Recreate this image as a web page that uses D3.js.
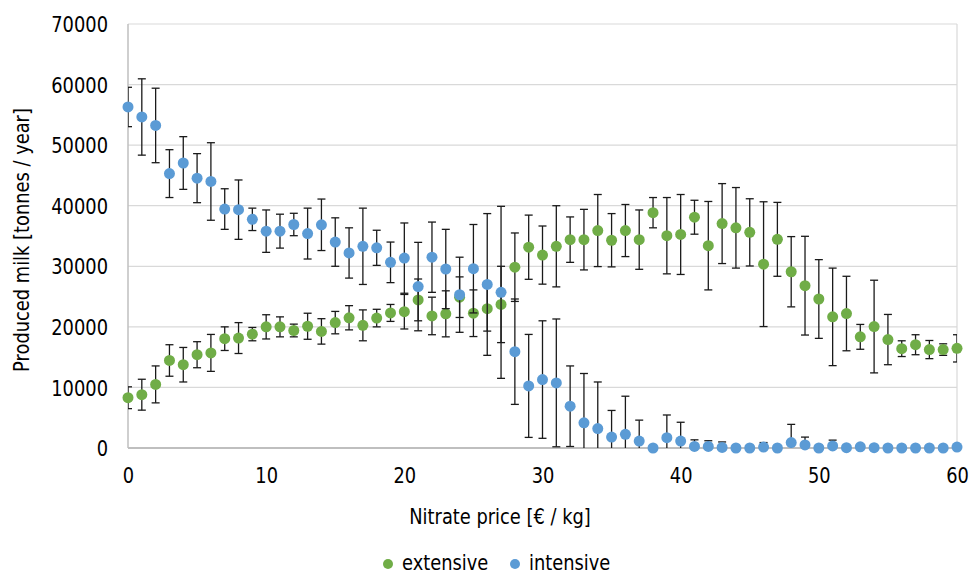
<!DOCTYPE html>
<html>
<head>
<meta charset="utf-8">
<script src="https://cdn.jsdelivr.net/npm/d3@7"></script>
<style>
  body { margin: 0; background: #fff; }
  text { font-family: "DejaVu Sans", sans-serif; fill: #000; }
</style>
</head>
<body>
<div id="chart"></div>
<script>
let prices = [0, 1, 2, 3, 4, 5, 6, 7, 8, 9, 10, 11, 12, 13, 14, 15, 16, 17, 18, 19, 20,
  21, 22, 23, 24, 25, 26, 27, 28, 29, 30, 31, 32, 33, 34, 35, 36, 37, 38, 39, 40,
  41, 42, 43, 44, 45, 46, 47, 48, 49, 50, 51, 52, 53, 54, 55, 56, 57, 58, 59, 60];

let extensiveMilk = [8300, 8800, 10500, 14450, 13750, 15400, 15700, 18050, 18150, 18800, 20000,
  20000, 19400, 20100, 19250, 20700, 21500, 20250, 21450, 22300, 22500,
  24450, 21800, 22150, 24900, 22250, 23000, 23700, 29850, 33150, 31850,
  33300, 34400, 34400, 35900, 34300, 35900, 34400, 38850, 35050, 35250,
  38100, 33400, 37050, 36350, 35600, 30350, 34450, 29100, 26800, 24600,
  21650, 22200, 18350, 20050, 17900, 16400, 17050, 16250, 16250, 16450];
let extensiveErr = [1800, 2550, 3050, 2600, 2850, 2150, 3050, 1950, 2550, 1100, 2000,
  1650, 1050, 2150, 2100, 1850, 2000, 2550, 1450, 1400, 2850,
  3450, 3100, 3800, 3350, 3850, 3700, 6300, 5650, 5300, 4800,
  6700, 3750, 5000, 5950, 4400, 4300, 4900, 2500, 6300, 6600,
  2800, 7300, 6600, 6650, 5550, 10300, 6100, 5800, 8150, 6500,
  8050, 6150, 2050, 7650, 4150, 1300, 1650, 1500, 950, 2250];

let intensiveMilk = [56300, 54650, 53250, 45300, 47050, 44550, 44000, 39450, 39350, 37750, 35800,
  35800, 36900, 35400, 36850, 34000, 32200, 33300, 33050, 30650, 31350,
  26650, 31500, 29550, 25300, 29600, 27000, 25700, 15900, 10250, 11300,
  10750, 6900, 4150, 3200, 1800, 2250, 1150, 0, 1700, 1150,
  250, 250, 100, 0, 0, 150, 0, 900, 500, 0,
  350, 50, 200, 50, 0, 0, 0, 0, 0, 150];
let intensiveErr = [3250, 6300, 6150, 3950, 4350, 4050, 6400, 3350, 4900, 1850, 3500,
  2800, 1850, 4200, 4250, 4000, 4150, 6300, 2900, 3350, 5800,
  7300, 5800, 6550, 6200, 7300, 11700, 14200, 8700, 8500, 9700,
  10550, 6650, 8150, 7700, 4400, 6300, 3450, 0, 3750, 3100,
  1100, 950, 900, 0, 0, 750, 0, 3000, 1300, 0,
  950, 0, 0, 0, 0, 0, 0, 0, 0, 0];

let yTicks = [0, 10000, 20000, 30000, 40000, 50000, 60000, 70000];
let xTicks = [0, 10, 20, 30, 40, 50, 60];

let seriesNames = ["extensive", "intensive"];
let seriesColors = ["#70ad47", "#5b9bd5"];

let svgWidth = 973;
let svgHeight = 575;
let margin = { top: 24, right: 16, bottom: 127, left: 128 };
let width = svgWidth - margin.left - margin.right;
let height = svgHeight - margin.top - margin.bottom;
let squeeze = 0.85; // the original font is narrow

let svg = d3.select("#chart").append("svg").attr("width", svgWidth).attr("height", svgHeight);
let chartGroup = svg.append("g").attr("transform", `translate(${margin.left}, ${margin.top})`);

let xScale = d3.scaleLinear().domain([0, 60]).range([0, width]);
let yScale = d3.scaleLinear().domain([0, 70000]).range([height, 0]);

// Grid and frame

chartGroup.selectAll(".grid")
  .data(yTicks.slice(1))
  .enter()
  .append("line")
  .attr("x1", 0)
  .attr("x2", width)
  .attr("y1", d => yScale(d))
  .attr("y2", d => yScale(d))
  .attr("stroke", "#d9d9d9")
  .attr("stroke-width", 1.2);

chartGroup.append("line")
  .attr("x1", xScale(60)).attr("x2", xScale(60))
  .attr("y1", 0).attr("y2", height)
  .attr("stroke", "#d9d9d9").attr("stroke-width", 1.2);

chartGroup.append("line")
  .attr("x1", 0).attr("x2", 0)
  .attr("y1", 0).attr("y2", height)
  .attr("stroke", "#bfbfbf").attr("stroke-width", 1.5);

chartGroup.append("line")
  .attr("x1", 0).attr("x2", width)
  .attr("y1", height).attr("y2", height)
  .attr("stroke", "#bfbfbf").attr("stroke-width", 1.8);

// Axes

let yAxis = chartGroup.append("g")
  .call(d3.axisLeft(yScale).tickValues(yTicks).tickFormat(d3.format("d")).tickSize(0).tickPadding(20));
yAxis.select(".domain").remove();
yAxis.attr("font-family", "DejaVu Sans").attr("font-size", 21);
yAxis.selectAll("text")
  .attr("x", 0)
  .attr("dy", "0.36em")
  .attr("fill", "#000")
  .attr("transform", `translate(-20, 0) scale(${squeeze}, 1)`);

let xAxis = chartGroup.append("g")
  .attr("transform", `translate(0, ${height})`)
  .call(d3.axisBottom(xScale).tickValues(xTicks).tickFormat(d3.format("d")).tickSize(0).tickPadding(20));
xAxis.select(".domain").remove();
xAxis.attr("font-family", "DejaVu Sans").attr("font-size", 21);
xAxis.selectAll("text")
  .attr("fill", "#000")
  .attr("transform", `scale(${squeeze}, 1)`);

svg.append("text")
  .attr("transform", `translate(29, 240) rotate(-90) scale(${squeeze}, 1)`)
  .attr("text-anchor", "middle")
  .attr("font-size", 21)
  .text("Produced milk [tonnes / year]");

svg.append("text")
  .attr("transform", `translate(500, 524) scale(${squeeze}, 1)`)
  .attr("text-anchor", "middle")
  .attr("font-size", 21)
  .text("Nitrate price [€ / kg]");

// Error bars and markers

svg.append("defs").append("clipPath").attr("id", "plot-clip")
  .append("rect").attr("x", 0).attr("y", 0).attr("width", width).attr("height", height);

let series = [
  { name: seriesNames[0], color: seriesColors[0], values: extensiveMilk, errs: extensiveErr },
  { name: seriesNames[1], color: seriesColors[1], values: intensiveMilk, errs: intensiveErr }
];

series.forEach(s => {
  let rows = prices.map((p, i) => ({ x: p, v: s.values[i], e: s.errs[i] }))
  let withErr = rows.filter(d => d.e > 0);

  let bars = chartGroup.append("g").attr("clip-path", "url(#plot-clip)")
    .attr("stroke", "#1a1a1a").attr("stroke-width", 1.3);

  bars.selectAll(".bar")
    .data(withErr)
    .enter()
    .append("line")
    .attr("x1", d => xScale(d.x))
    .attr("x2", d => xScale(d.x))
    .attr("y1", d => yScale(d.v - d.e))
    .attr("y2", d => yScale(d.v + d.e));

  [1, -1].forEach(sign => {
    bars.selectAll(".cap" + sign)
      .data(withErr)
      .enter()
      .append("line")
      .attr("x1", d => xScale(d.x) - 4)
      .attr("x2", d => xScale(d.x) + 4)
      .attr("y1", d => yScale(d.v + sign * d.e))
      .attr("y2", d => yScale(d.v + sign * d.e));
  });

  chartGroup.append("g").selectAll("circle")
    .data(rows)
    .enter()
    .append("circle")
    .attr("cx", d => xScale(d.x))
    .attr("cy", d => yScale(d.v))
    .attr("r", 5.5)
    .attr("fill", s.color);
});

// Legend

let legendX = [388, 515];
series.forEach((s, i) => {
  svg.append("circle")
    .attr("cx", legendX[i])
    .attr("cy", 564)
    .attr("r", 5)
    .attr("fill", s.color);
  svg.append("text")
    .attr("transform", `translate(${legendX[i] + 14}, 570) scale(${squeeze}, 1)`)
    .attr("font-size", 21)
    .text(s.name);
});
</script>
</body>
</html>
